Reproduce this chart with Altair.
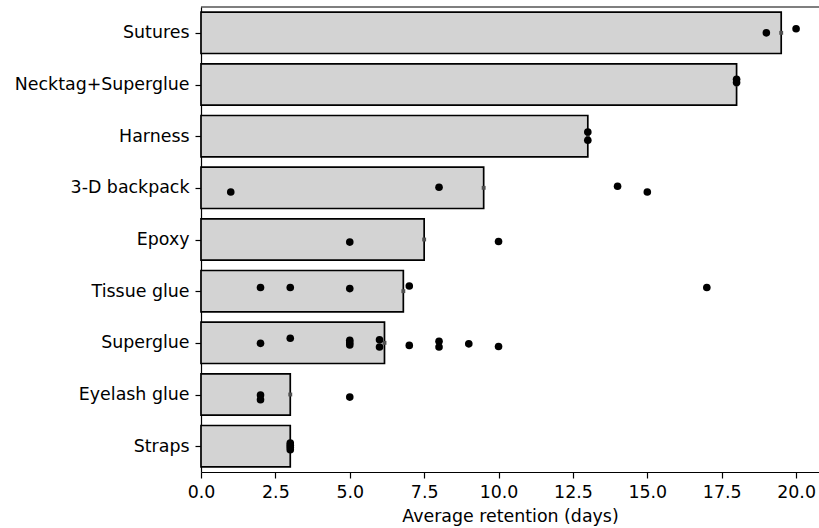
import json
import altair as alt
import pandas as pd

categories = ["Sutures", "Necktag+Superglue", "Harness", "3-D backpack", "Epoxy",
              "Tissue glue", "Superglue", "Eyelash glue", "Straps"]

# individual retention values (days) per attachment method
sutures = [19, 20]
necktag_superglue = [18, 18]
harness = [13, 13]
backpack_3d = [1, 8, 14, 15]
epoxy = [5, 10]
tissue_glue = [2, 3, 5, 7, 17]
superglue = [2, 3, 5, 5, 5, 6, 6, 7, 8, 8, 9, 10]
eyelash_glue = [2, 2, 5]
straps = [3, 3, 3, 3]

# strip-plot jitter (in category units)
jit_sutures = [0.0, -0.08]
jit_necktag = [-0.10, -0.04]
jit_harness = [-0.08, 0.08]
jit_backpack = [0.08, -0.01, -0.03, 0.08]
jit_epoxy = [0.05, 0.04]
jit_tissue = [-0.07, -0.07, -0.05, -0.10, -0.07]
jit_superglue = [0.01, -0.09, -0.05, 0.0, 0.04, -0.06, 0.08, 0.05, -0.03, 0.08, 0.02, 0.07]
jit_eyelash = [0.01, 0.10, 0.05]
jit_straps = [-0.06, -0.02, 0.02, 0.07]

values = [sutures, necktag_superglue, harness, backpack_3d, epoxy,
          tissue_glue, superglue, eyelash_glue, straps]
jitters = [jit_sutures, jit_necktag, jit_harness, jit_backpack, jit_epoxy,
           jit_tissue, jit_superglue, jit_eyelash, jit_straps]

rows = []
for cat, vals, jits in zip(categories, values, jitters):
    for v, j in zip(vals, jits):
        rows.append({"method": cat, "days": v, "jitter": j})
df = pd.DataFrame(rows)

FONT = "DejaVu Sans"
W, H = 618, 465
cats_js = json.dumps(categories)

xscale = alt.Scale(domain=[0, 20.77], nice=False, zero=True)
yscale = alt.Scale(domain=[-0.5, len(categories) - 0.5], reverse=True, nice=False, zero=False)

xaxis = alt.Axis(values=[0, 2.5, 5, 7.5, 10, 12.5, 15, 17.5, 20], format=".1f",
                 title="Average retention (days)", grid=False, labelFlush=False)
yaxis = alt.Axis(values=list(range(len(categories))), title=None, grid=False,
                 labelFlush=False, labelExpr=f"{cats_js}[datum.value]")

base = alt.Chart(df).transform_calculate(
    idx=f"indexof({cats_js}, datum.method)"
)

means = base.transform_aggregate(
    mean_days="mean(days)", groupby=["method", "idx"]
).transform_calculate(
    y0="datum.idx - 0.4", y1="datum.idx + 0.4"
)

bars = means.mark_bar(fill="#d3d3d3", stroke="black", strokeWidth=1.7).encode(
    x=alt.X("mean_days:Q", scale=xscale, axis=xaxis),
    x2=alt.datum(0),
    y=alt.Y("y0:Q", scale=yscale, axis=yaxis),
    y2="y1:Q",
)

meanmark = means.mark_square(color="#505050", size=15, opacity=1).encode(
    x=alt.X("mean_days:Q", scale=xscale),
    y=alt.Y("idx:Q", scale=yscale),
)

points = base.transform_calculate(
    ypos="datum.idx + datum.jitter"
).mark_circle(color="black", size=58, opacity=1).encode(
    x=alt.X("days:Q", scale=xscale),
    y=alt.Y("ypos:Q", scale=yscale),
)

topline = alt.Chart(pd.DataFrame({"a": [0]})).mark_rule(color="black", strokeWidth=1.2).encode(
    x=alt.value(0), x2=alt.value(W), y=alt.value(0)
)

chart = alt.layer(bars, meanmark, points, topline).properties(
    width=W, height=H,
    autosize=alt.AutoSizeParams(type="none"),
    padding={"left": 201, "top": 7, "right": 0, "bottom": 56},
).configure_view(stroke=None).configure_axis(
    labelFont=FONT, titleFont=FONT, labelFontSize=17.4, titleFontSize=17.4,
    titleFontWeight="normal", labelColor="black", titleColor="black",
    domainColor="black", tickColor="black", domainWidth=1.2, tickWidth=1.2,
    tickSize=6, labelPadding=5,
).configure_axisX(titlePadding=7).configure_axisY(labelPadding=6)

chart.save("out.html", embed_options={"renderer": "svg", "actions": False})
